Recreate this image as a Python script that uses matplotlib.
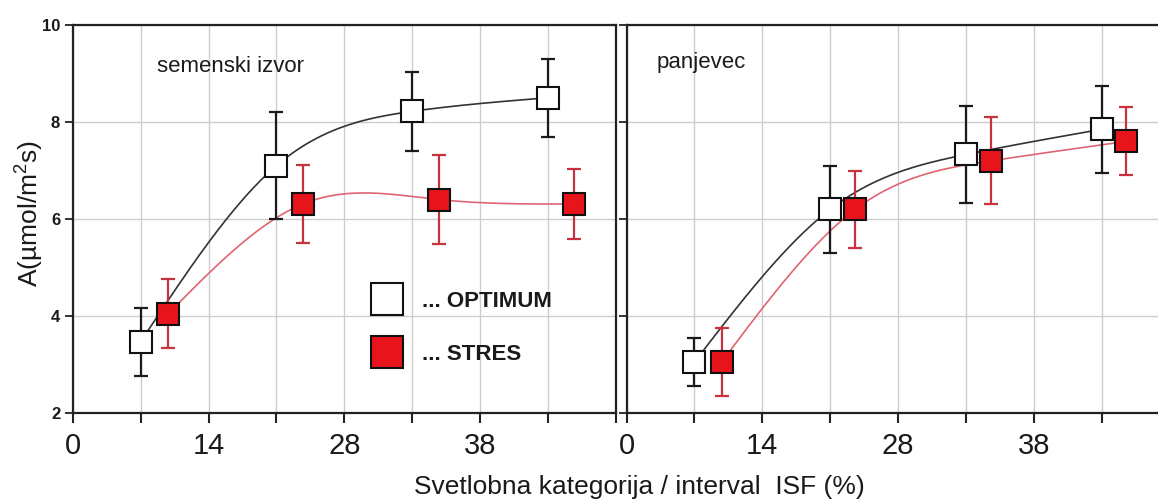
import numpy as np
import matplotlib
matplotlib.use("Agg")
import matplotlib.pyplot as plt
from matplotlib.lines import Line2D

# ---------------- data ----------------
x_tick_positions = [0, 1, 2, 3, 4, 5, 6, 7, 8]
x_tick_labels = ["0", "", "14", "", "28", "", "38", "", ""]
y_ticks = [2, 4, 6, 8, 10]

panel_titles = ["semenski izvor", "panjevec"]
series_labels = ["... OPTIMUM", "... STRES"]

# semenski izvor
left_opt_x = [1.0, 3.0, 5.0, 7.0]
left_opt_y = [3.47, 7.1, 8.22, 8.5]
left_opt_err = [0.7, 1.1, 0.82, 0.8]
left_str_x = [1.41, 3.39, 5.4, 7.38]
left_str_y = [4.05, 6.31, 6.4, 6.31]
left_str_err = [0.72, 0.8, 0.92, 0.72]

# panjevec
right_opt_x = [1.0, 3.0, 5.0, 7.0]
right_opt_y = [3.05, 6.2, 7.33, 7.85]
right_opt_err = [0.5, 0.9, 1.0, 0.9]
right_str_x = [1.4, 3.37, 5.37, 7.36]
right_str_y = [3.05, 6.2, 7.2, 7.6]
right_str_err = [0.7, 0.8, 0.9, 0.7]

# ---------------- style ----------------
plt.rcParams["font.family"] = ["Liberation Sans", "DejaVu Sans"]
plt.rcParams["mathtext.fontset"] = "custom"
plt.rcParams["mathtext.rm"] = "Liberation Sans"
plt.rcParams["mathtext.it"] = "Liberation Sans:italic"
plt.rcParams["mathtext.bf"] = "Liberation Sans:bold"

OPT_LINE = "#333333"
STR_LINE = "#e06472"
OPT_ERR = "#1a1a1a"
STR_ERR = "#c8323f"
STR_FACE = "#e8141c"
GRID = "#cdcdcd"
SPINE = "#222222"


def natural_spline(x, y, n=300):
    x = np.asarray(x, float)
    y = np.asarray(y, float)
    nn = len(x)
    h = np.diff(x)
    A = np.zeros((nn, nn))
    b = np.zeros(nn)
    A[0, 0] = A[-1, -1] = 1.0
    for i in range(1, nn - 1):
        A[i, i - 1] = h[i - 1]
        A[i, i] = 2 * (h[i - 1] + h[i])
        A[i, i + 1] = h[i]
        b[i] = 6 * ((y[i + 1] - y[i]) / h[i] - (y[i] - y[i - 1]) / h[i - 1])
    M = np.linalg.solve(A, b)
    xs = np.linspace(x[0], x[-1], n)
    idx = np.clip(np.searchsorted(x, xs) - 1, 0, nn - 2)
    x0, x1 = x[idx], x[idx + 1]
    hh = x1 - x0
    ys = (M[idx] * (x1 - xs) ** 3 / (6 * hh)
          + M[idx + 1] * (xs - x0) ** 3 / (6 * hh)
          + (y[idx] / hh - M[idx] * hh / 6) * (x1 - xs)
          + (y[idx + 1] / hh - M[idx + 1] * hh / 6) * (xs - x0))
    return xs, ys


W, H = 1158, 500
fig = plt.figure(figsize=(W / 100, H / 100), dpi=100)
fig.patch.set_facecolor("white")

ax_w = 543.3 / W
ax_b = 87 / H
ax_h = 388 / H
ax1 = fig.add_axes([72.7 / W, ax_b, ax_w, ax_h])
ax2 = fig.add_axes([626.5 / W, ax_b, ax_w, ax_h])


def draw_panel(ax, ox, oy, oe, sx, sy, se):
    xs, ys = natural_spline(ox, oy)
    ax.plot(xs, ys, color=OPT_LINE, lw=1.2, zorder=2)
    xs, ys = natural_spline(sx, sy)
    ax.plot(xs, ys, color=STR_LINE, lw=1.2, zorder=2)
    ax.errorbar(ox, oy, yerr=oe, fmt="none", ecolor=OPT_ERR, elinewidth=1.6,
                capsize=4.8, capthick=1.6, zorder=3)
    ax.errorbar(sx, sy, yerr=se, fmt="none", ecolor=STR_ERR, elinewidth=1.6,
                capsize=4.8, capthick=1.6, zorder=3)
    ax.plot(ox, oy, ls="none", marker="s", markersize=16, mfc="white",
            mec="#111111", mew=1.5, zorder=4)
    ax.plot(sx, sy, ls="none", marker="s", markersize=16, mfc=STR_FACE,
            mec="#111111", mew=1.5, zorder=4)

    ax.set_xlim(0, 8)
    ax.set_ylim(2, 10)
    ax.set_xticks(x_tick_positions)
    ax.set_xticklabels(x_tick_labels)
    ax.set_yticks(y_ticks)
    ax.grid(True, color=GRID, lw=1.0, zorder=0)
    ax.set_axisbelow(True)
    for s in ax.spines.values():
        s.set_color(SPINE)
        s.set_linewidth(1.6)
    ax.tick_params(axis="x", direction="out", length=7, width=1.5,
                   labelsize=21, pad=7, colors=SPINE, labelcolor="#1a1a1a")
    ax.tick_params(axis="y", direction="out", length=6, width=1.3,
                   labelsize=12, pad=3, colors=SPINE, labelcolor="#1a1a1a")


draw_panel(ax1, left_opt_x, left_opt_y, left_opt_err,
           left_str_x, left_str_y, left_str_err)
draw_panel(ax2, right_opt_x, right_opt_y, right_opt_err,
           right_str_x, right_str_y, right_str_err)

for lab in ax1.get_yticklabels():
    lab.set_fontweight("bold")
ax2.set_yticklabels([])

ax1.text(0.155, 0.880, panel_titles[0], transform=ax1.transAxes,
         fontsize=16, color="#1a1a1a", ha="left", va="baseline")
ax2.text(0.056, 0.888, panel_titles[1], transform=ax2.transAxes,
         fontsize=16, color="#1a1a1a", ha="left", va="baseline")

handles = [
    Line2D([], [], ls="none", marker="s", markersize=23, mfc="white",
           mec="#111111", mew=1.5),
    Line2D([], [], ls="none", marker="s", markersize=23, mfc=STR_FACE,
           mec="#111111", mew=1.5),
]
ax1.legend(handles, series_labels, loc="upper left",
           bbox_to_anchor=(376 / W, 1 - 291 / H), bbox_transform=fig.transFigure,
           frameon=False, borderpad=0, borderaxespad=0,
           handlelength=1.0, handletextpad=1.05, labelspacing=1.45,
           prop={"weight": "bold", "size": 16}, labelcolor="#1a1a1a")

fig.text(30 / W, 1 - 213 / H, r"A(µmol/m$^{2}$s)", rotation=90,
         ha="center", va="center", fontsize=19, color="#1a1a1a")
fig.text(639 / W, 1 - 494 / H, "Svetlobna kategorija / interval  ISF (%)",
         ha="center", va="baseline", fontsize=19, color="#1a1a1a")

fig.savefig("out.png", dpi=100, facecolor="white")
